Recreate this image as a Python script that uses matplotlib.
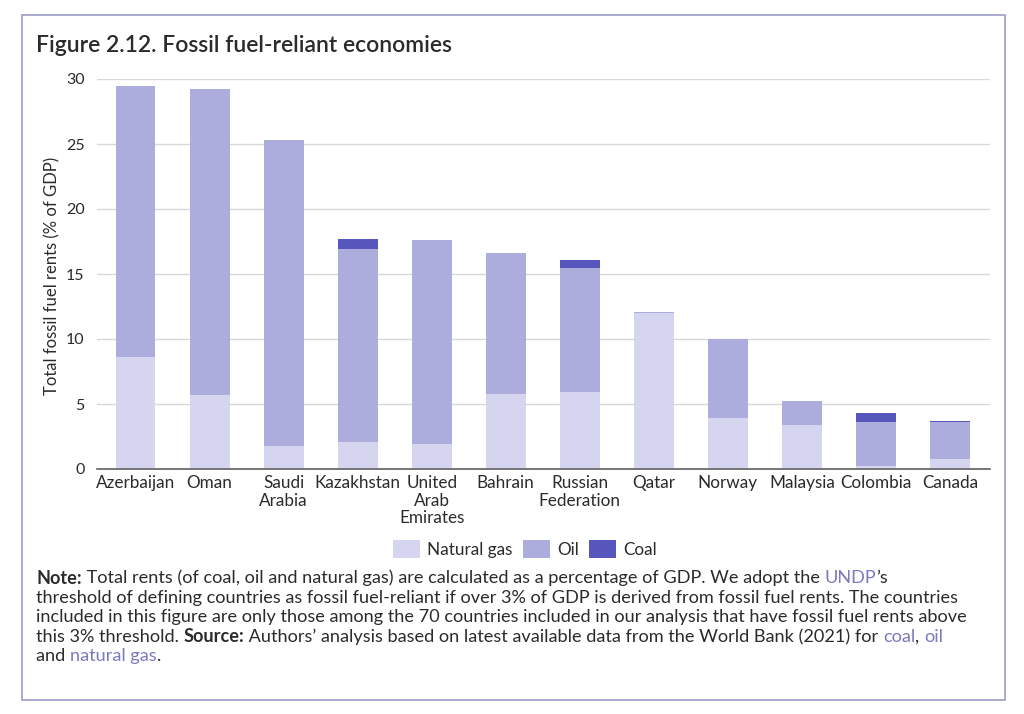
import numpy as np
import matplotlib
matplotlib.use("Agg")
import matplotlib.pyplot as plt
from matplotlib.patches import Rectangle

countries = ["Azerbaijan", "Oman", "Saudi\nArabia", "Kazakhstan", "United\nArab\nEmirates",
             "Bahrain", "Russian\nFederation", "Qatar", "Norway", "Malaysia", "Colombia", "Canada"]
natural_gas = [8.6, 5.7, 1.75, 2.05, 1.95, 5.75, 5.9, 12.0, 3.95, 3.35, 0.2, 0.8]
oil = [20.9, 23.5, 23.55, 14.85, 15.65, 10.85, 9.6, 0.1, 6.05, 1.85, 3.4, 2.85]
coal = [0.0, 0.0, 0.0, 0.8, 0.0, 0.0, 0.6, 0.0, 0.0, 0.0, 0.7, 0.05]
series_names = ["Natural gas", "Oil", "Coal"]
y_ticks = [0, 5, 10, 15, 20, 25, 30]

gas_color = "#d5d5f0"
oil_color = "#acacdd"
coal_color = "#5656bd"
link_color = "#7a7ac0"
text_color = "#2b2b2b"

plt.rcParams["font.family"] = ["Lato", "DejaVu Sans"]

fig = plt.figure(figsize=(10.24, 7.14), dpi=100)
fig.patches.append(Rectangle((22 / 1024, 1 - 700 / 714), 983 / 1024, 685 / 714,
                             transform=fig.transFigure, fill=False,
                             edgecolor="#9c9cc8", linewidth=1.2))

fig.text(36 / 1024, 1 - 46 / 714, "Figure 2.12. Fossil fuel-reliant economies",
         fontsize=16.5, fontweight="semibold", color=text_color, va="center", ha="left")

ax = fig.add_axes([97 / 1024, 1 - 469 / 714, 893 / 1024, 390 / 714])
x = np.arange(len(countries))
w = 0.54
gas = np.array(natural_gas)
oil_arr = np.array(oil)
coal_arr = np.array(coal)
ax.bar(x, gas, w, color=gas_color, label=series_names[0], zorder=2)
ax.bar(x, oil_arr, w, bottom=gas, color=oil_color, label=series_names[1], zorder=2)
ax.bar(x, coal_arr, w, bottom=gas + oil_arr, color=coal_color, label=series_names[2], zorder=2)

ax.set_xlim(-0.52, len(countries) - 0.46)
ax.set_ylim(0, 30)
ax.set_yticks(y_ticks)
ax.set_xticks(x)
ax.set_xticklabels(countries, fontsize=12.3, color=text_color, linespacing=1.15)
ax.tick_params(axis="x", length=0, pad=4, labelcolor=text_color)
ax.tick_params(axis="y", length=0, pad=9, labelsize=11.5, labelcolor=text_color)
ax.yaxis.grid(True, color="#d8d8d8", linewidth=1, zorder=0)
ax.set_axisbelow(True)
for s in ["top", "right", "left"]:
    ax.spines[s].set_visible(False)
ax.spines["bottom"].set_color("#606060")
ax.spines["bottom"].set_linewidth(1.2)
ax.spines["bottom"].set_zorder(3)
fig.text(52 / 1024, 1 - 276 / 714, "Total fossil fuel rents (% of GDP)", rotation=90,
         fontsize=12, color=text_color, ha="center", va="center")

ax.legend(loc="center", bbox_to_anchor=(525 / 1024, 1 - 549 / 714), bbox_transform=fig.transFigure,
          ncol=3, frameon=False, fontsize=12.3, handlelength=1.6, handleheight=1.2,
          handletextpad=0.4, columnspacing=0.6, labelcolor=text_color)

# note text, drawn piece by piece so bold and link words can differ
note_lines = [
    [("Note:", "b"), (" Total rents (of coal, oil and natural gas) are calculated as a percentage of GDP. We adopt the ", "n"),
     ("UNDP", "c"), ("\u2019s", "n")],
    [("threshold of defining countries as fossil fuel-reliant if over 3% of GDP is derived from fossil fuel rents. The countries", "n")],
    [("included in this figure are only those among the 70 countries included in our analysis that have fossil fuel rents above", "n")],
    [("this 3% threshold. ", "n"), ("Source:", "b"),
     (" Authors\u2019 analysis based on latest available data from the World Bank (2021) for ", "n"),
     ("coal", "c"), (", ", "n"), ("oil", "c")],
    [("and ", "n"), ("natural gas", "c"), (".", "n")],
]
renderer = fig.canvas.get_renderer()

# pick the size so that the second line has the same width as in the original
probe = fig.text(0, 0, note_lines[1][0][0], fontsize=10)
note_size = 10 * 922 / probe.get_window_extent(renderer).width
probe.remove()

y0 = 578
for i, line in enumerate(note_lines):
    xpos = 36
    for txt, kind in line:
        t = fig.text(xpos / 1024, 1 - (y0 + i * 19.5) / 714, txt, fontsize=note_size,
                     color=link_color if kind == "c" else text_color,
                     fontweight="bold" if kind == "b" else "normal",
                     va="center", ha="left")
        bb = t.get_window_extent(renderer)
        xpos += bb.width

fig.savefig("out.png", dpi=100)
